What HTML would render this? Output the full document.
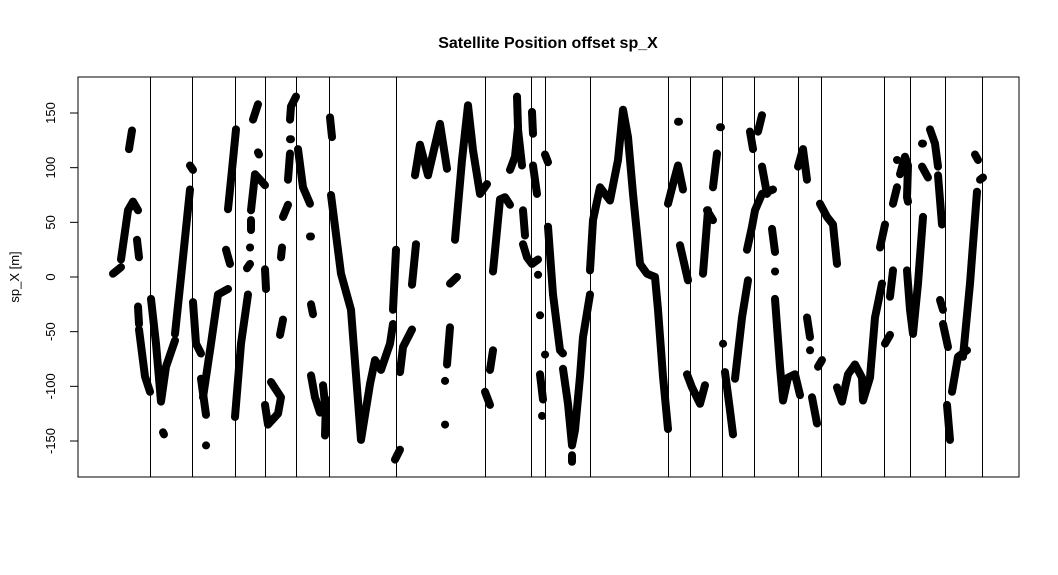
<!DOCTYPE html>
<html><head><meta charset="utf-8"><style>
html,body{margin:0;padding:0;background:#fff;}
svg{display:block;font-family:"Liberation Sans",Arial,sans-serif;}
</style></head><body>
<svg id="chart" width="1058" height="575" viewBox="0 0 1058 575" xmlns="http://www.w3.org/2000/svg">
<rect x="0" y="0" width="1058" height="575" fill="#fff"/>
<text x="548" y="48" text-anchor="middle" font-size="16" font-weight="bold">Satellite Position offset sp_X</text>
<text transform="translate(19,277) rotate(-90)" text-anchor="middle" font-size="13">sp_X [m]</text>
<g id="marks"></g>
<g id="vlines"></g>
<g id="yaxis"></g>
<rect x="78" y="77" width="941" height="400" fill="none" stroke="#000" stroke-width="1"/>
</svg>
<script>
const yTicks = [-150, -100, -50, 0, 50, 100, 150];
const yTickLabels = ["-150", "-100", "-50", "0", "50", "100", "150"];
const dividerTimes = [72,114,157,187,218,251,318,407,453,467,512,590,612,644,676,720,743,806,832,867,904];
const series = [
[[35,3],[43,9]],
[[43,16],[50,61],[55,69],[60,61]],
[[51,117],[54,134]],
[[59,34],[61,18]],
[[60,-27],[61,-43]],
[[61,-48],[67,-91],[72,-105]],
[[73,-20],[78,-61],[83,-114],[88,-82],[97,-58]],
[[85,-142],[86,-144]],
[[97,-52],[103,0],[112,80]],
[[112,102],[115,98]],
[[115,-23],[118,-61],[123,-70]],
[[123,-93],[128,-126]],
[[128,-154],[128,-154]],
[[125,-110],[133,-61],[140,-16],[150,-11]],
[[157,-128],[163,-61],[170,-16]],
[[150,62],[154,98],[158,135]],
[[148,25],[152,12]],
[[173,61],[177,94],[187,84]],
[[175,144],[180,158]],
[[180,114],[181,112]],
[[173,43],[173,52]],
[[172,27],[172,27]],
[[169,8],[172,12]],
[[187,7],[188,-11]],
[[187,-117],[190,-135],[200,-125],[203,-110],[193,-96]],
[[202,-53],[205,-39]],
[[203,18],[204,27]],
[[205,55],[210,66]],
[[210,89],[212,113]],
[[212,126],[213,126]],
[[212,144],[213,156],[218,165]],
[[220,117],[225,82],[232,67]],
[[232,37],[233,37]],
[[233,-25],[235,-34]],
[[233,-90],[237,-110],[242,-124],[247,-116],[245,-99]],
[[248,-112],[247,-145]],
[[252,146],[254,128]],
[[253,75],[263,3],[273,-30],[283,-149],[292,-98],[297,-76],[303,-85],[312,-61],[315,-43]],
[[315,-30],[318,25]],
[[317,-167],[322,-158]],
[[322,-87],[325,-64],[334,-48]],
[[334,-7],[338,30]],
[[337,93],[342,121],[350,93],[362,140],[369,99]],
[[372,-6],[379,0]],
[[367,-135],[367,-135]],
[[367,-95],[367,-95]],
[[369,-80],[372,-46]],
[[377,34],[384,107],[390,157],[395,116],[402,76],[409,85]],
[[407,-105],[412,-117]],
[[412,-85],[415,-67]],
[[415,5],[422,71],[427,73],[432,66]],
[[432,98],[437,110],[440,137],[439,165]],
[[440,135],[444,102]],
[[445,61],[447,38]],
[[445,30],[449,18],[454,12],[460,16]],
[[454,151],[455,131]],
[[455,102],[459,76]],
[[460,2],[460,2]],
[[462,-35],[462,-35]],
[[462,-89],[465,-112]],
[[464,-127],[464,-127]],
[[467,-71],[467,-71]],
[[467,112],[470,105]],
[[470,46],[475,-16],[482,-67],[485,-70]],
[[485,-84],[490,-116],[494,-154],[497,-140],[502,-91],[505,-55],[512,-16]],
[[494,-163],[494,-169]],
[[512,6],[515,52],[522,82],[532,70],[540,107],[545,153],[550,128],[555,76],[562,12],[569,3],[577,0],[580,-30],[585,-91],[590,-139]],
[[590,67],[595,85],[600,102],[605,80]],
[[600,142],[601,142]],
[[602,29],[610,-3]],
[[609,-89],[614,-101],[622,-116],[627,-99]],
[[625,3],[630,61]],
[[629,61],[635,52]],
[[635,82],[639,113]],
[[642,137],[643,137]],
[[645,-61],[645,-61]],
[[647,-87],[652,-122],[655,-144]],
[[657,-93],[664,-37],[670,-3]],
[[669,25],[674,46],[677,61],[684,76],[695,80]],
[[672,133],[675,117]],
[[680,133],[684,148]],
[[684,101],[689,76]],
[[694,44],[697,23]],
[[697,5],[697,5]],
[[697,-20],[702,-82],[705,-113],[710,-92],[717,-89],[722,-108]],
[[720,101],[725,117],[729,89]],
[[729,-37],[732,-55]],
[[732,-67],[732,-67]],
[[734,-110],[739,-134]],
[[740,-82],[744,-76]],
[[742,67],[749,55],[755,48],[759,12]],
[[759,-101],[764,-114],[770,-89],[777,-80],[784,-92],[785,-113],[792,-92],[797,-37],[804,-6]],
[[802,27],[807,48]],
[[807,-61],[812,-53]],
[[812,-18],[815,6]],
[[815,67],[819,82]],
[[819,107],[819,107]],
[[822,94],[827,110],[830,102],[829,73],[830,69]],
[[829,6],[832,-30],[835,-52],[840,-6],[845,55]],
[[844,101],[850,91]],
[[844,122],[845,122]],
[[852,135],[857,122],[860,101]],
[[860,93],[864,48]],
[[862,-21],[865,-30]],
[[865,-43],[870,-64]],
[[869,-117],[872,-149]],
[[874,-105],[880,-73],[889,-67]],
[[885,-73],[892,-6],[899,78]],
[[897,112],[900,107]],
[[902,89],[905,91]]
];
const NS = "http://www.w3.org/2000/svg";
const X0 = 78, X1 = 1019, TMAX = 941;
function xScale(t){ return X0 + (t / TMAX) * (X1 - X0); }
function yScale(v){ return 277 - v * (328 / 300); }
const marks = document.getElementById('marks');
series.forEach(function(seg, i){
  const p = document.createElementNS(NS, 'path');
  let d = '';
  seg.forEach(function(pt, j){
    d += (j ? 'L' : 'M') + xScale(pt[0]).toFixed(1) + ',' + yScale(pt[1]).toFixed(1);
  });
  if (seg.length === 2 && seg[0][0] === seg[1][0] && seg[0][1] === seg[1][1]) d += 'l0.1,0';
  p.setAttribute('d', d);
  p.setAttribute('fill', 'none');
  p.setAttribute('stroke', '#000');
  p.setAttribute('stroke-width', '8');
  p.setAttribute('stroke-linecap', 'round');
  p.setAttribute('stroke-linejoin', 'round');
  
  
  marks.appendChild(p);
});
const vl = document.getElementById('vlines');
dividerTimes.forEach(function(t){
  const l = document.createElementNS(NS, 'line');
  const x = Math.round(xScale(t)) + 0.5;
  l.setAttribute('x1', x); l.setAttribute('x2', x);
  l.setAttribute('y1', 77); l.setAttribute('y2', 477);
  l.setAttribute('stroke', '#000'); l.setAttribute('stroke-width', '1');
  
  
  vl.appendChild(l);
});
const ya = document.getElementById('yaxis');
const axl = document.createElementNS(NS, 'line');
axl.setAttribute('x1', 78); axl.setAttribute('x2', 78);
axl.setAttribute('y1', yScale(yTicks[0])); axl.setAttribute('y2', yScale(yTicks[yTicks.length-1]));
axl.setAttribute('stroke', '#000');


ya.appendChild(axl);
yTicks.forEach(function(v, i){
  const y = yScale(v);
  const tk = document.createElementNS(NS, 'line');
  tk.setAttribute('x1', 70); tk.setAttribute('x2', 78);
  tk.setAttribute('y1', y); tk.setAttribute('y2', y);
  tk.setAttribute('stroke', '#000');
  
  
  ya.appendChild(tk);
  const tx = document.createElementNS(NS, 'text');
  tx.setAttribute('transform', 'translate(55,' + y + ') rotate(-90)');
  tx.setAttribute('text-anchor', 'middle');
  tx.setAttribute('font-size', '13');
  tx.textContent = yTickLabels[i];
  
  
  ya.appendChild(tx);
});
</script>
</body></html>
